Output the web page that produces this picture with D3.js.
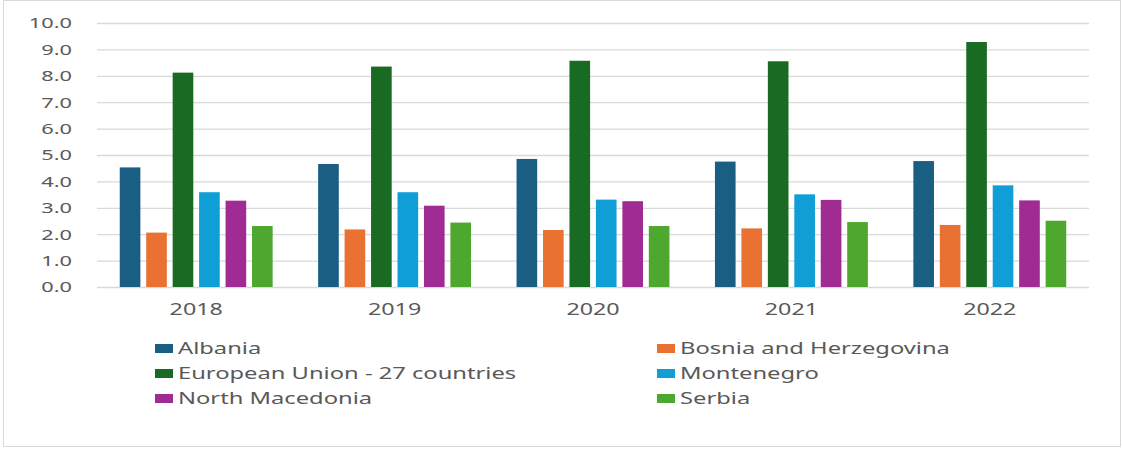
<!DOCTYPE html>
<html>
<head>
<meta charset="utf-8">
<script src="https://cdn.jsdelivr.net/npm/d3@7/dist/d3.min.js"></script>
<style>
  html, body { margin: 0; padding: 0; background: #fff; }
  svg { display: block; }
  text { font-family: "Noto Sans", "DejaVu Sans", sans-serif; fill: #595959; }
</style>
</head>
<body>
<svg id="chart" width="1122" height="449"></svg>
<script>
// Years shown on the category axis
const years = ["2018", "2019", "2020", "2021", "2022"];

// Series names and colours
const seriesNames = [
  "Albania",
  "Bosnia and Herzegovina",
  "European Union - 27 countries",
  "Montenegro",
  "North Macedonia",
  "Serbia"
];
const seriesColors = ["#1a5e84", "#e97132", "#196b24", "#0f9ed5", "#a02b93", "#4ea72e"];

// Values per series, one per year
const albania     = [4.53, 4.66, 4.85, 4.75, 4.77];
const bosnia      = [2.06, 2.18, 2.16, 2.22, 2.35];
const eu27        = [8.12, 8.35, 8.57, 8.55, 9.28];
const montenegro  = [3.59, 3.59, 3.31, 3.51, 3.85];
const northMac    = [3.27, 3.08, 3.25, 3.30, 3.28];
const serbia      = [2.31, 2.44, 2.31, 2.46, 2.51];
const seriesValues = [albania, bosnia, eu27, montenegro, northMac, serbia];

// Y axis tick values
const yTicks = [0, 1, 2, 3, 4, 5, 6, 7, 8, 9, 10];

const svg = d3.select("#chart");
const W = 1122, H = 449;
const plot = { left: 97, right: 1089, top: 23, bottom: 287 };

// Horizontal stretch applied to labels
function stretchText(sel, k) {
  sel.each(function () {
    const w = this.getComputedTextLength();
    d3.select(this).attr("textLength", w * k).attr("lengthAdjust", "spacingAndGlyphs");
  });
}

// Outer frame
svg.append("rect")
  .attr("x", 3.5).attr("y", 0.5)
  .attr("width", W - 5).attr("height", H - 3)
  .attr("fill", "#fff").attr("stroke", "#d9d9d9").attr("stroke-width", 1);

const x0 = d3.scaleBand().domain(years).range([plot.left, plot.right])
  .paddingInner(0.2).paddingOuter(0.1);
const x1 = d3.scaleBand().domain(d3.range(seriesNames.length)).range([0, x0.bandwidth()])
  .paddingInner(0.22).paddingOuter(0.11);
const y = d3.scaleLinear().domain([0, 10]).range([plot.bottom, plot.top]);

// Gridlines and y-axis labels
const yAxis = d3.axisLeft(y).tickValues(yTicks)
  .tickSize(-(plot.right - plot.left)).tickPadding(25)
  .tickFormat(d3.format(".1f"));
const gy = svg.append("g").attr("transform", `translate(${plot.left},0)`).call(yAxis);
gy.select(".domain").remove();
gy.selectAll(".tick line").attr("stroke", "#d9d9d9").attr("stroke-width", 1.3);
gy.selectAll(".tick text")
  .attr("fill", "#595959").attr("font-size", 15)
  .style("font-family", '"Noto Sans", sans-serif')
  .call(stretchText, 1.45);

// Bars
const groups = svg.append("g").selectAll("g")
  .data(years)
  .join("g")
  .attr("transform", d => `translate(${x0(d)},0)`);

groups.selectAll("rect")
  .data((yr, i) => seriesValues.map((vals, s) => ({ s, v: vals[i] })))
  .join("rect")
  .attr("x", d => x1(d.s))
  .attr("y", d => y(d.v))
  .attr("width", x1.bandwidth())
  .attr("height", d => y(0) - y(d.v))
  .attr("fill", d => seriesColors[d.s]);

// Category axis labels
const xAxis = d3.axisBottom(x0).tickSize(0).tickPadding(17);
const gx = svg.append("g").attr("transform", `translate(0,${plot.bottom})`).call(xAxis);
gx.select(".domain").remove();
gx.selectAll(".tick text")
  .attr("fill", "#595959").attr("font-size", 15.5)
  .style("font-family", '"Noto Sans", sans-serif')
  .call(stretchText, 1.5);

// Legend: two columns, three rows
const legendCols = [155, 657];
const legendRows = [349, 374, 399];
const legend = svg.append("g").selectAll("g")
  .data(seriesNames)
  .join("g")
  .attr("transform", (d, i) => `translate(${legendCols[i % 2]},${legendRows[Math.floor(i / 2)]})`);

legend.append("rect")
  .attr("x", 0).attr("y", -5)
  .attr("width", 18).attr("height", 9)
  .attr("fill", (d, i) => seriesColors[i]);

legend.append("text")
  .attr("x", 23).attr("y", 0)
  .attr("dy", "0.35em")
  .attr("font-size", 15.5)
  .text(d => d)
  .call(stretchText, 1.53);
</script>
</body>
</html>
